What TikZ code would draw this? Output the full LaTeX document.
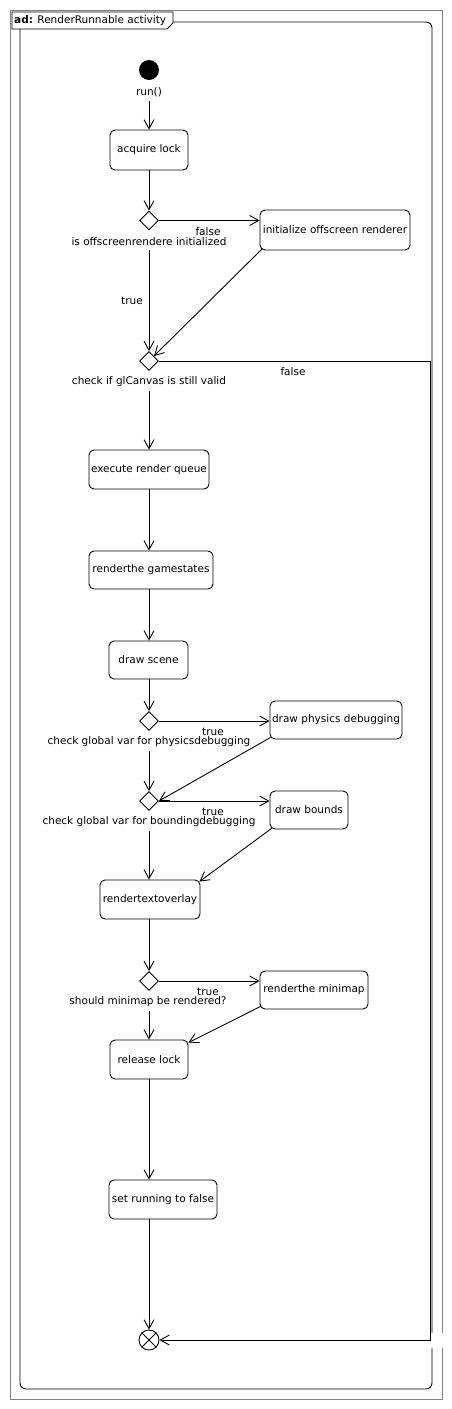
\documentclass[tikz,border=0pt]{standalone}
\usepackage{fontspec}
\setmainfont{DejaVu Sans}
\usetikzlibrary{shapes.geometric,arrows.meta,calc}
\begin{document}
\begin{tikzpicture}[x=1pt,y=-1pt,
  every node/.style={font=\fontsize{10.5}{12}\selectfont, inner sep=0pt},
  act/.style={draw, rounded corners=5pt, line width=0.9pt, align=center},
  dec/.style={draw, diamond, minimum width=19pt, minimum height=19pt, line width=0.9pt},
  arr/.style={line width=0.9pt, -{Straight Barb[length=9pt,width=10pt]}},
  flow/.style={line width=0.9pt},
  frame/.style={line width=0.9pt}
]
\fill[white] (0,0) rectangle (451,1409);
\useasboundingbox (0,0) rectangle (451,1409);
% frames
\draw[gray, frame] (10,10) rectangle (442,1399);
\draw[frame, rounded corners=6pt] (173,22) -- (432,22) -- (432,1389) -- (20,1389) -- (20,29);
\draw[frame] (12,12) -- (173,12) -- (173,23) -- (167,29) -- (12,29) -- cycle;
\node[anchor=west] (title) at (14,20.5) {\textbf{ad:} RenderRunnable activity};
\fill[white] (431,1333) rectangle (443,1348);
% helper coordinates
\coordinate (axis) at (149,0);
\coordinate (rx) at (430,0);
% nodes
\node[circle, fill, minimum size=20pt] (start) at (149,70) {};
\node (runlbl) at (149,92) {run()};
\node[act, minimum width=78pt, minimum height=40pt] (acquire) at (149,150) {acquire lock};
\node[dec] (d1) at (149,220.5) {};
\node (d1lbl) at (149,242) {is offscreenrendere initialized};
\node[act, minimum width=150pt, minimum height=40pt] (init) at (335,230) {initialize offscreen renderer};
\node (f1) at (208,232) {false};
\node (t1) at (132,301) {true};
\node[dec] (d2) at (149,361) {};
\node (f2) at (293,372) {false};
\node (d2lbl) at (149,382) {check if glCanvas is still valid};
\node[act, minimum width=120pt, minimum height=39pt] (exec) at (149,469.5) {execute render queue};
\node[act, minimum width=124pt, minimum height=38pt] (games) at (151,570) {renderthe gamestates};
\node[act, minimum width=79pt, minimum height=38pt] (scene) at (148.5,660) {draw scene};
\node[dec] (d3) at (149,721) {};
\node (t3) at (213,732) {true};
\node (d3lbl) at (149,742) {check global var for physicsdebugging};
\node[act, minimum width=132pt, minimum height=38pt] (phys) at (336,720) {draw physics debugging};
\node[dec] (d4) at (149,801) {};
\node (t4) at (213,812) {true};
\node (d4lbl) at (149,822) {check global var for boundingdebugging};
\node[act, minimum width=78pt, minimum height=38pt] (bounds) at (309,810) {draw bounds};
\node[act, minimum width=100pt, minimum height=39pt] (overlay) at (150,899.5) {rendertextoverlay};
\node[dec] (d5) at (149,981) {};
\node (t5) at (208,992) {true};
\node (d5lbl) at (148,1002) {should minimap be rendered?};
\node[act, minimum width=108pt, minimum height=38pt] (minimap) at (314,990) {renderthe minimap};
\node[act, minimum width=78pt, minimum height=39pt] (release) at (149,1059.5) {release lock};
\node[act, minimum width=108pt, minimum height=39pt] (setrun) at (163,1199.5) {set running to false};
\node[circle, draw, line width=0.9pt, minimum size=20pt] (end) at (149,1340) {};
\draw[flow] (end.north east) -- (end.south west) (end.north west) -- (end.south east);
% connectors
\draw[arr, shorten <=4pt] (runlbl) -- (acquire);
\draw[arr] (acquire) -- (d1);
\draw[arr] (d1.east) -- (d1.east -| init.west);
\draw[arr, shorten <=4pt] (d1lbl.south -| axis) -- (d2.north);
\draw[arr] ($(init.south west)+(3,-2)$) -- (d2.north east);
\draw[arr] (d2.east) -- (d2.east -| rx) |- (end.east);
\draw[arr, shorten <=4pt] (d2lbl.south -| axis) -- (exec.north -| axis);
\draw[arr] (exec.south -| axis) -- (games.north -| axis);
\draw[arr] (games.south -| axis) -- (scene.north -| axis);
\draw[arr] (scene.south -| axis) -- (d3.north);
\draw[arr] (d3.east) -- (d3.east -| phys.west);
\draw[arr, shorten <=4pt] (d3lbl.south -| axis) -- (d4.north);
\draw[arr] ($(phys.south west)+(1,-2)$) -- (d4.east);
\draw[arr] (d4.east) -- (d4.east -| bounds.west);
\draw[arr, shorten <=4pt] (d4lbl.south -| axis) -- (overlay.north -| axis);
\draw[arr] ($(bounds.south west)+(2,-1)$) -- ($(overlay.north east)+(-1,2)$);
\draw[arr] (overlay.south -| axis) -- (d5.north);
\draw[arr] (d5.east) -- (d5.east -| minimap.west);
\draw[arr, shorten <=4pt] (d5lbl.south -| axis) -- (release.north -| axis);
\draw[arr] ($(minimap.south west)+(1,-3)$) -- ($(release.north east)+(0,3)$);
\draw[arr] (release.south -| axis) -- (setrun.north -| axis);
\draw[arr] (setrun.south -| axis) -- (end.north);
\end{tikzpicture}
\end{document}
